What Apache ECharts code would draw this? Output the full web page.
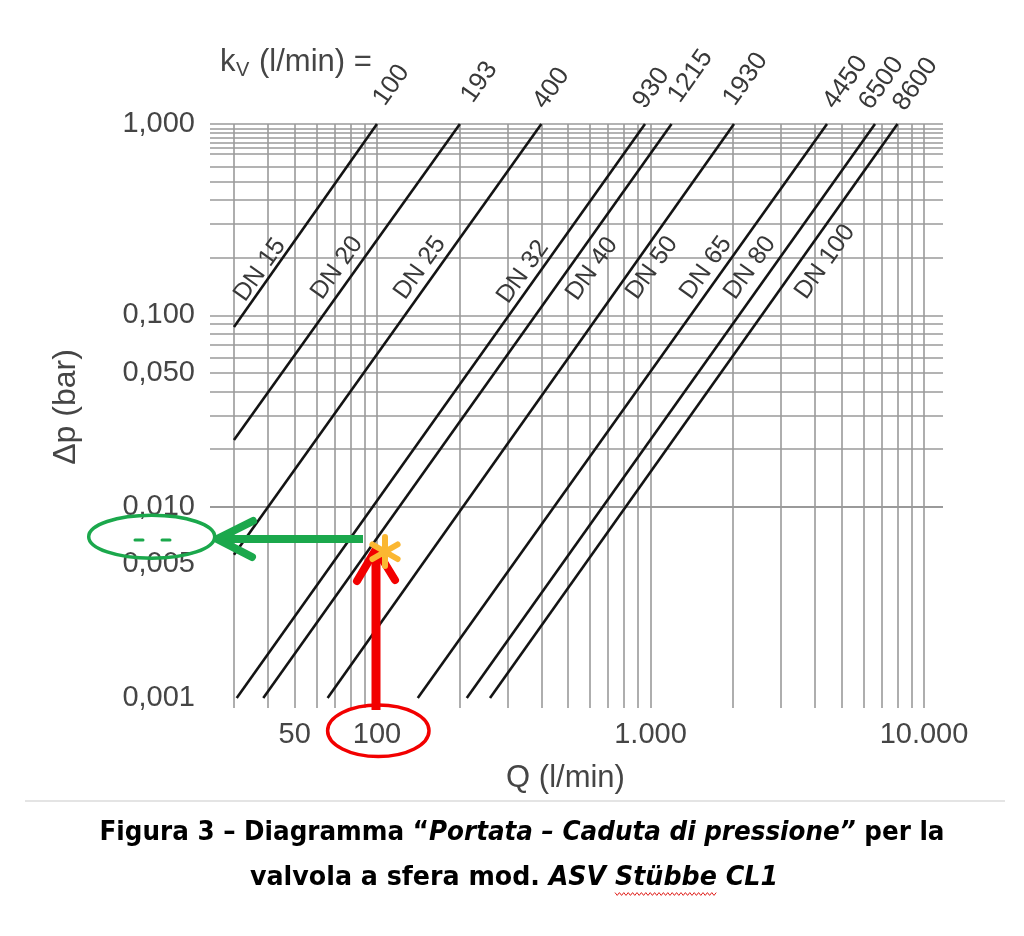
<!DOCTYPE html>
<html>
<head>
<meta charset="utf-8">
<script src="https://cdn.jsdelivr.net/npm/echarts@6/dist/echarts.min.js"></script>
<style>
html,body{margin:0;padding:0;background:#ffffff;}
#c{width:1024px;height:936px;}
</style>
</head>
<body>
<div id="c"></div>
<script>
// ---------------- DATA ----------------
const dnNames   = ['DN 15','DN 20','DN 25','DN 32','DN 40','DN 50','DN 65','DN 80','DN 100'];
const kvLabels  = ['100','193','400','930','1215','1930','4450','6500','8600'];
// each line: start point [Q, dp] and end point [Q, dp]
const lineStartQ  = [30, 30, 30, 30.7, 38.4, 66, 141, 213, 259];
const lineStartDp = [0.087, 0.0223, 0.0056, 0.001, 0.001, 0.001, 0.001, 0.001, 0.001];
const lineEndQ    = [100, 201, 399, 955, 1194, 2020, 4420, 6620, 8000];
const lineEndDp   = [1, 1, 1, 1, 1, 1, 1, 1, 1];

const xTickValues = [50, 100, 1000, 10000];
const xTickLabels = ['50', '100', '1.000', '10.000'];
const yTickValues = [0.001, 0.005, 0.01, 0.05, 0.1, 1];
const yTickLabels = ['0,001', '0,005', '0,010', '0,050', '0,100', '1,000'];

const xGridValues = [30, 40, 50, 60, 70, 80, 90, 100, 200, 300, 400, 500, 600, 700, 800, 900,
                     1000, 2000, 3000, 4000, 5000, 6000, 7000, 8000, 9000, 10000];
const yGridValues = [0.001, 0.002, 0.003, 0.004, 0.005, 0.006, 0.007, 0.008, 0.009,
                     0.01, 0.02, 0.03, 0.04, 0.05, 0.06, 0.07, 0.08, 0.09,
                     0.1, 0.2, 0.3, 0.4, 0.5, 0.6, 0.7, 0.75, 0.8, 0.85, 0.9, 0.95, 1];

const xAxisName = 'Q (l/min)';
const yAxisName = 'Δp (bar)';
const captionLine1 = ['Figura 3 – Diagramma “', 'Portata – Caduta di pressione”', ' per la'];
const captionLine2 = ['valvola a sfera mod. ', 'ASV ', 'Stübbe', ' CL1'];

// ---------------- LAYOUT ----------------
const X_MIN = 24.52, X_MAX = 11736;
const Y_MIN = 0.000886, Y_MAX = 1.0002;
const FONT = '"Liberation Sans", Arial, sans-serif';
const TXT = '#454545';
const GRID_COLOR = '#9a9a9a';

// label anchors (pixels)
const dnLabelPos = [[260,270],[337,268],[420,268],[523,272],[592,269],[652,268],[706,268],[750,268],[825,262]];
const kvLabelPos = [[379,103],[467,100],[539,106],[639,106],[674,100],[729,103],[829,106],[865,107],[899,108]];

function nearestLabel(v, vals, labels) {
  let best = 0, bd = Infinity;
  for (let i = 0; i < vals.length; i++) {
    const d = Math.abs(Math.log10(v) - Math.log10(vals[i]));
    if (d < bd) { bd = d; best = i; }
  }
  return bd < 0.01 ? labels[best] : '';
}

const chart = echarts.init(document.getElementById('c'), null, {renderer: 'canvas'});

const series = [];
// grid lines
const gridLines = [];
xGridValues.forEach(v => gridLines.push([{coord: [v, Y_MIN * 1.0005]}, {coord: [v, 1]}]));
yGridValues.forEach(v => gridLines.push({yAxis: v}));
series.push({
  type: 'line', name: 'grid', data: [], silent: true, z: 1,
  markLine: {
    silent: true, z: 1, animation: false,
    symbol: ['none', 'none'],
    label: {show: false},
    lineStyle: {color: GRID_COLOR, width: 1.6, type: 'solid'},
    emphasis: {disabled: true},
    data: gridLines
  }
});
// kv lines
dnNames.forEach((n, i) => {
  series.push({
    type: 'line', name: n, z: 3, silent: true,
    showSymbol: false, symbol: 'none',
    lineStyle: {color: '#141414', width: 2.6},
    data: [[lineStartQ[i], lineStartDp[i]], [lineEndQ[i], lineEndDp[i]]]
  });
});

// caption measurement
const mctx = document.createElement('canvas').getContext('2d');
const CAP_FS = 26;
const CAP_FAM = '"DejaVu Sans", Verdana, sans-serif';
function mw(t, italic) {
  mctx.font = (italic ? 'italic ' : '') + 'bold ' + CAP_FS + 'px ' + CAP_FAM;
  return mctx.measureText(t).width;
}
const w1 = mw(captionLine1[0]) + mw(captionLine1[1], true) + mw(captionLine1[2]);
const capScale = 845 / w1;
const w2parts = [mw(captionLine2[0]), mw(captionLine2[1], true), mw(captionLine2[2], true), mw(captionLine2[3], true)];
const w2 = w2parts.reduce((a, b) => a + b, 0);
const capScale2 = 528 / w2;
const cap2Center = 514;
const cap2Left = cap2Center - w2 * capScale2 / 2;
const stStart = cap2Left + (w2parts[0] + w2parts[1]) * capScale2;
const stEnd = stStart + w2parts[2] * capScale2;
const wave = [];
for (let x = stStart, k = 0; x <= stEnd; x += 2.2, k++) wave.push([x, 894 + (k % 2 ? 1.4 : -1.4)]);

const capRich = {
  b: {fontFamily: CAP_FAM, fontWeight: 'bold', fontSize: CAP_FS, fill: '#000'},
  i: {fontFamily: CAP_FAM, fontWeight: 'bold', fontStyle: 'italic', fontSize: CAP_FS, fill: '#000'}
};

const graphic = [];
dnNames.forEach((n, i) => {
  graphic.push({type: 'text', x: dnLabelPos[i][0], y: dnLabelPos[i][1], rotation: 54.5 * Math.PI / 180, silent: true, z: 50,
    style: {text: n, fontFamily: FONT, fontSize: 25, fill: '#383838', align: 'center', verticalAlign: 'middle'}});
});
kvLabels.forEach((n, i) => {
  graphic.push({type: 'text', x: kvLabelPos[i][0], y: kvLabelPos[i][1], rotation: 55 * Math.PI / 180, silent: true, z: 50,
    style: {text: n, fontFamily: FONT, fontSize: 26, fill: '#383838', align: 'left', verticalAlign: 'middle'}});
});
graphic.push(
  {type: 'text', x: 220, y: 62, silent: true, style: {text: 'k', fontFamily: FONT, fontSize: 31, fill: TXT, align: 'left', verticalAlign: 'middle'}},
  {type: 'text', x: 236, y: 70, silent: true, style: {text: 'V', fontFamily: FONT, fontSize: 20, fill: TXT, align: 'left', verticalAlign: 'middle'}},
  {type: 'text', x: 259, y: 62, silent: true, style: {text: '(l/min) =', fontFamily: FONT, fontSize: 31, fill: TXT, align: 'left', verticalAlign: 'middle'}},
  // separator
  {type: 'line', silent: true, shape: {x1: 25, y1: 801, x2: 1005, y2: 801}, style: {stroke: '#e4e4e4', lineWidth: 2}},
  // caption
  {type: 'text', x: 522, y: 833, scaleX: capScale, silent: true,
    style: {text: '{b|' + captionLine1[0] + '}{i|' + captionLine1[1] + '}{b|' + captionLine1[2] + '}', rich: capRich, align: 'center', verticalAlign: 'middle'}},
  {type: 'text', x: cap2Center, y: 878, scaleX: capScale2, silent: true,
    style: {text: '{b|' + captionLine2[0] + '}{i|' + captionLine2[1] + captionLine2[2] + captionLine2[3] + '}', rich: capRich, align: 'center', verticalAlign: 'middle'}},
  {type: 'polyline', silent: true, shape: {points: wave}, style: {stroke: '#e0201c', lineWidth: 1, fill: null}},
  // green annotation
  {type: 'ellipse', silent: true, z: 60, shape: {cx: 151.7, cy: 536.7, rx: 63, ry: 21.5}, style: {stroke: '#1ba84c', lineWidth: 3.5, fill: null}},
  {type: 'line', silent: true, z: 60, shape: {x1: 135, y1: 540, x2: 143, y2: 540}, style: {stroke: '#1ba84c', lineWidth: 3, lineCap: 'round'}},
  {type: 'line', silent: true, z: 60, shape: {x1: 162, y1: 540, x2: 170, y2: 540}, style: {stroke: '#1ba84c', lineWidth: 3, lineCap: 'round'}},
  {type: 'line', silent: true, z: 60, shape: {x1: 363, y1: 539, x2: 222, y2: 539}, style: {stroke: '#1ba84c', lineWidth: 8}},
  {type: 'polyline', silent: true, z: 60, shape: {points: [[253, 521], [217, 539], [252, 557]]}, style: {stroke: '#1ba84c', lineWidth: 8, lineCap: 'round', lineJoin: 'round', fill: null}},
  // red annotation
  {type: 'ellipse', silent: true, z: 60, shape: {cx: 378.3, cy: 730.8, rx: 50.7, ry: 25.8}, style: {stroke: '#f20000', lineWidth: 3.5, fill: null}},
  {type: 'line', silent: true, z: 60, shape: {x1: 376, y1: 710, x2: 376, y2: 553}, style: {stroke: '#f20000', lineWidth: 9}},
  {type: 'polyline', silent: true, z: 60, shape: {points: [[357, 581], [376, 549], [395, 580]]}, style: {stroke: '#f20000', lineWidth: 8, lineCap: 'round', lineJoin: 'round', fill: null}},
  // asterisk
  {type: 'line', silent: true, z: 61, shape: {x1: 385, y1: 537, x2: 385, y2: 566}, style: {stroke: '#fbb731', lineWidth: 6, lineCap: 'round'}},
  {type: 'line', silent: true, z: 61, shape: {x1: 372.4, y1: 544.5, x2: 397.6, y2: 559}, style: {stroke: '#fbb731', lineWidth: 6, lineCap: 'round'}},
  {type: 'line', silent: true, z: 61, shape: {x1: 372.4, y1: 559, x2: 397.6, y2: 544.5}, style: {stroke: '#fbb731', lineWidth: 6, lineCap: 'round'}}
);

chart.setOption({
  animation: false,
  backgroundColor: '#ffffff',
  grid: {left: 210, right: 81, top: 124, bottom: 228, containLabel: false},
  xAxis: {
    type: 'log', logBase: 10, min: X_MIN, max: X_MAX,
    axisLine: {show: false}, axisTick: {show: false}, splitLine: {show: false},
    axisLabel: {
      customValues: xTickValues, margin: 12,
      fontFamily: FONT, fontSize: 29, color: TXT,
      formatter: v => nearestLabel(v, xTickValues, xTickLabels)
    },
    name: xAxisName, nameLocation: 'middle', nameGap: 55,
    nameTextStyle: {fontFamily: FONT, fontSize: 31, color: TXT, padding: [0, 22, 0, 0]}
  },
  yAxis: {
    type: 'log', logBase: 10, min: Y_MIN, max: Y_MAX,
    axisLine: {show: false}, axisTick: {show: false}, splitLine: {show: false},
    axisLabel: {
      customValues: yTickValues, margin: 15,
      fontFamily: FONT, fontSize: 29, color: TXT,
      formatter: v => nearestLabel(v, yTickValues, yTickLabels)
    },
    name: yAxisName, nameLocation: 'middle', nameGap: 128,
    nameTextStyle: {fontFamily: FONT, fontSize: 32, color: TXT, padding: [0, 0, 0, 18]}
  },
  series: series,
  graphic: graphic
});
</script>
</body>
</html>
